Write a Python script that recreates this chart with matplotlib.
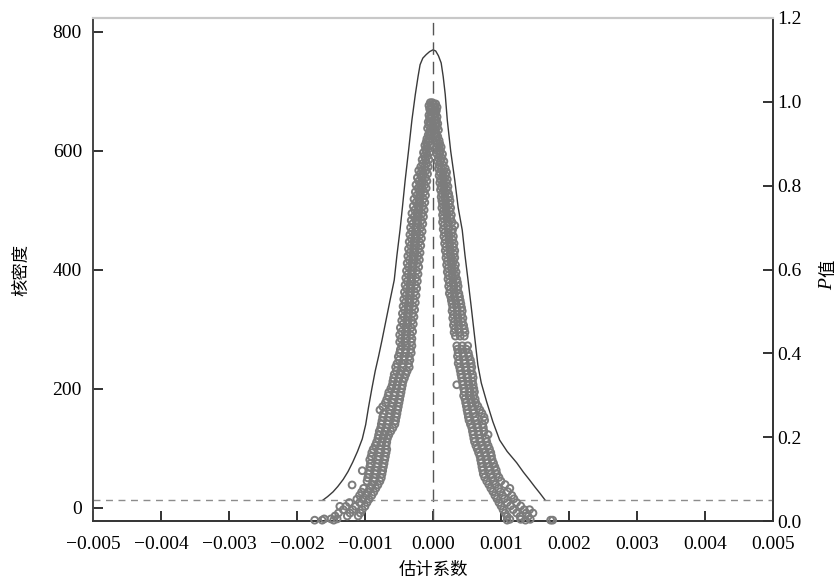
import matplotlib
matplotlib.use("Agg")
import matplotlib.pyplot as plt
import numpy as np

plt.rcParams['font.family'] = ['Liberation Serif', 'Noto Sans CJK SC', 'DejaVu Sans']

# kernel density of the placebo coefficients (coef in units of 1e-4)
kde_coef_e4 = [-16.2, -15.5, -14.7, -14.0, -13.2, -12.5, -11.8, -11.1, -10.4, -9.9, -9.5, -9.0,
               -8.5, -8.0, -7.5, -6.9, -6.3, -5.7, -5.3, -4.85, -4.5, -4.1, -3.6, -3.1, -2.6,
               -2.2, -1.9, -1.5, -1.0, -0.5, 0.0, 0.4, 0.8, 1.2, 1.5, 1.8, 2.1, 2.6, 3.2, 3.7,
               4.3, 4.7, 5.15, 5.6, 6.0, 6.3, 6.6, 7.1, 7.9, 8.8, 9.8, 10.9, 12.3, 13.3, 14.2,
               15.0, 15.7, 16.5]
kde_density = [13, 19, 27, 36, 48, 61, 77, 95, 116, 140, 168, 200,
               230, 255, 282, 316, 350, 383, 425, 467, 505, 550, 600, 652, 695,
               725, 745, 756, 762, 767, 770, 768, 760, 748, 725, 695, 652, 600, 551, 505,
               467, 425, 383, 340, 300, 270, 240, 210, 178, 145, 114, 95, 76, 60, 47,
               35, 25, 13]

# p values of negative placebo estimates, one row per p level
neg_p = [0.998, 0.991, 0.983, 0.976, 0.968, 0.961, 0.952, 0.944, 0.937, 0.929, 0.921, 0.912,
         0.904, 0.896, 0.887, 0.879, 0.871, 0.862, 0.853, 0.845, 0.836, 0.828, 0.819, 0.811,
         0.802, 0.794, 0.785, 0.777, 0.768, 0.760, 0.751, 0.742, 0.734, 0.726, 0.717, 0.709,
         0.700, 0.691, 0.683, 0.674, 0.666, 0.657, 0.649, 0.640, 0.632, 0.623, 0.615, 0.606,
         0.597, 0.589, 0.580, 0.572, 0.563, 0.555, 0.546, 0.538, 0.529, 0.521, 0.512, 0.504,
         0.495, 0.487, 0.478, 0.470, 0.461, 0.452, 0.444, 0.435, 0.427, 0.418, 0.409, 0.401,
         0.392, 0.384, 0.375, 0.367, 0.358, 0.350, 0.341, 0.333, 0.324, 0.316, 0.307, 0.299,
         0.290, 0.282, 0.273, 0.265, 0.256, 0.248, 0.239, 0.231, 0.222, 0.214, 0.205, 0.197,
         0.188, 0.180, 0.171, 0.163, 0.154, 0.146, 0.137, 0.129, 0.120, 0.112, 0.103, 0.095,
         0.086, 0.078, 0.069, 0.061, 0.052, 0.044, 0.035, 0.027, 0.019, 0.012, 0.005, 0.002]
neg_coef_e4 = [[-0.1, -0.4], [-0.3, -0.6], [-0.2, -0.5], [-0.4, -0.1], [-0.6, -0.3], [-0.2, -0.5],
               [-0.4, -0.7], [-0.1, -0.6], [-0.3, -0.8], [-0.5, -0.2], [-0.7, -0.4], [-0.9, -0.5],
               [-0.6, -1.0], [-0.4, -0.9, -1.2], [-0.7, -1.1], [-0.5, -1.0, -1.4], [-0.8, -1.3],
               [-0.6, -1.1, -1.6], [-0.9, -1.5], [-0.7, -1.2, -1.8], [-1.0, -1.6, -2.1],
               [-0.8, -1.4, -1.9], [-1.1, -1.7, -2.3], [-0.9, -1.5, -2.1], [-1.2, -1.9, -2.5],
               [-1.0, -1.6, -2.2], [-1.3, -2.0, -2.6], [-1.1, -1.8, -2.4], [-1.4, -2.1, -2.8],
               [-1.2, -1.9, -2.5], [-1.5, -2.2, -2.9], [-1.3, -2.0, -2.7], [-1.6, -2.4, -3.1],
               [-1.4, -2.1, -2.8], [-1.7, -2.5, -3.2], [-1.5, -2.2, -3.0], [-1.8, -2.6, -3.3],
               [-1.6, -2.3, -3.1], [-1.9, -2.7, -3.4], [-1.7, -2.4, -3.2], [-2.0, -2.8, -3.5],
               [-1.8, -2.5, -3.3], [-2.1, -2.9, -3.6], [-1.9, -2.6, -3.4], [-2.2, -3.0, -3.7],
               [-2.0, -2.7, -3.5], [-2.3, -3.1, -3.8], [-2.1, -2.9, -3.6], [-2.4, -3.2, -3.9],
               [-2.2, -3.0, -3.7], [-2.5, -3.3, -4.0], [-2.3, -3.1, -3.8], [-2.6, -3.4, -4.1],
               [-2.4, -3.2, -3.9], [-2.7, -3.5, -4.2], [-2.5, -3.3, -4.0], [-2.8, -3.6, -4.3],
               [-2.6, -3.4, -4.1], [-2.9, -3.7, -4.4], [-2.7, -3.5, -4.2], [-3.0, -3.8, -4.5],
               [-2.8, -3.6, -4.3], [-3.1, -3.9, -4.6], [-2.9, -3.7, -4.4], [-3.2, -4.0, -4.8],
               [-3.0, -3.8, -4.6], [-3.3, -4.1, -4.9], [-3.1, -3.9, -4.7], [-3.2, -4.2, -4.9],
               [-3.1, -3.9, -4.6], [-3.3, -4.1, -4.8], [-3.2, -4.0, -4.9], [-3.5, -4.3, -5.1],
               [-3.4, -4.2, -5.0], [-3.6, -4.5, -5.3], [-3.5, -4.4, -5.5], [-3.8, -4.7, -5.4],
               [-4.0, -4.9, -5.7], [-4.2, -5.0, -5.8], [-4.4, -5.2, -5.9], [-4.5, -5.3, -6.0],
               [-4.6, -5.4, -6.2], [-4.7, -5.6, -6.5], [-4.8, -5.7, -6.6], [-4.9, -5.8, -6.8],
               [-5.0, -6.0, -7.0], [-5.1, -6.1, -7.4], [-5.2, -6.3, -7.8], [-5.3, -6.4, -7.3],
               [-5.4, -6.5, -7.4], [-5.5, -6.6, -7.5], [-5.6, -6.7, -7.6], [-5.9, -6.8, -7.7],
               [-6.2, -7.0, -7.9], [-6.5, -7.2, -8.0], [-6.7, -7.4, -8.1], [-6.8, -7.5, -8.3],
               [-6.9, -7.7, -8.5], [-6.8, -7.8, -8.8], [-6.9, -7.9, -9.0], [-7.0, -8.0, -9.1],
               [-7.1, -8.1, -9.3], [-7.2, -8.2, -9.2], [-7.3, -8.3, -9.3], [-7.4, -8.4, -9.4, -10.4],
               [-7.5, -8.5, -9.5], [-7.6, -8.6, -9.6], [-7.8, -8.7, -9.7], [-8.1, -9.0, -11.9],
               [-8.4, -9.3, -10.2], [-8.7, -9.6, -10.5], [-9.0, -9.9, -10.8], [-9.4, -10.3, -11.2],
               [-9.7, -10.8, -12.3], [-10.0, -11.4, -12.8, -13.7], [-10.4, -11.8, -13.2],
               [-10.7, -12.2, -13.9], [-11.0, -12.6, -14.4], [-14.1, -15.0, -16.0],
               [-14.6, -16.3, -17.4]]

# p values of positive placebo estimates, one row per p level
pos_p = [0.995, 0.987, 0.979, 0.972, 0.964, 0.956, 0.948, 0.940, 0.933, 0.925, 0.917, 0.908,
         0.900, 0.892, 0.883, 0.875, 0.866, 0.858, 0.849, 0.841, 0.832, 0.824, 0.815, 0.807,
         0.798, 0.790, 0.781, 0.773, 0.764, 0.756, 0.747, 0.739, 0.730, 0.722, 0.713, 0.705,
         0.696, 0.688, 0.679, 0.671, 0.662, 0.654, 0.645, 0.637, 0.628, 0.620, 0.611, 0.603,
         0.594, 0.586, 0.577, 0.569, 0.560, 0.552, 0.543, 0.535, 0.526, 0.518, 0.509, 0.501,
         0.492, 0.484, 0.475, 0.467, 0.458, 0.450, 0.441, 0.418, 0.410, 0.401, 0.393, 0.384,
         0.376, 0.367, 0.359, 0.350, 0.342, 0.333, 0.325, 0.316, 0.308, 0.299, 0.291, 0.282,
         0.274, 0.265, 0.257, 0.248, 0.240, 0.231, 0.223, 0.214, 0.206, 0.197, 0.189, 0.180,
         0.172, 0.163, 0.155, 0.146, 0.138, 0.129, 0.121, 0.112, 0.104, 0.095, 0.087, 0.078,
         0.070, 0.061, 0.053, 0.044, 0.036, 0.027, 0.019, 0.011, 0.004, 0.002]
pos_coef_e4 = [[0.1, 0.4], [0.3, 0.6], [0.2, 0.5], [0.4, 0.1], [0.6, 0.3], [0.2, 0.5],
               [0.4, 0.7], [0.1, 0.6], [0.3, 0.8], [0.5, 0.2], [0.7, 0.4], [0.9, 0.5],
               [0.6, 1.0], [0.5, 0.9, 1.2], [0.7, 1.1], [0.6, 1.0, 1.4], [0.8, 1.3],
               [0.7, 1.1, 1.6], [0.9, 1.5], [0.8, 1.2, 1.8], [1.0, 1.5, 2.0], [0.9, 1.4, 1.9],
               [1.1, 1.6, 2.1], [1.0, 1.5, 2.0], [1.2, 1.7, 2.2], [1.1, 1.6, 2.1], [1.3, 1.8, 2.3],
               [1.2, 1.7, 2.4], [1.3, 1.9, 2.5], [1.4, 1.8, 2.4], [1.3, 2.0, 2.6], [1.5, 1.9, 2.5],
               [1.4, 2.1, 2.7], [1.5, 2.0, 2.6], [1.4, 2.2, 2.8], [1.6, 2.1, 3.2], [1.5, 2.3, 2.9],
               [1.7, 2.2, 2.8], [1.6, 2.4, 3.0], [1.8, 2.3, 2.9], [1.7, 2.5, 3.1], [1.9, 2.4, 3.0],
               [1.8, 2.6, 3.2], [2.0, 2.5, 3.1], [1.9, 2.7, 3.2], [2.1, 2.6, 3.0], [2.0, 2.8, 3.3],
               [2.2, 2.7, 3.2], [2.1, 2.9, 3.4], [2.3, 2.8, 3.3], [2.2, 3.0, 3.5], [2.4, 2.9, 3.6],
               [2.3, 3.1, 3.7], [2.5, 3.0, 3.6], [2.4, 3.2, 3.8], [2.6, 3.1, 3.9], [2.7, 3.3, 4.0],
               [2.8, 3.4, 4.1], [2.9, 3.5, 4.2], [2.8, 3.6, 4.3], [3.0, 3.5, 4.2], [2.9, 3.7, 4.4],
               [3.1, 3.6, 4.3], [3.0, 3.8, 4.5], [3.2, 3.7, 4.6], [3.1, 3.9, 4.7], [3.3, 4.0, 4.6],
               [3.5, 4.3, 5.1], [3.6, 4.2, 4.9], [3.7, 4.4, 5.2], [3.6, 4.5, 5.3], [3.8, 4.6, 5.5],
               [3.7, 4.7, 5.6], [3.9, 4.8, 5.7], [4.0, 4.9, 5.6], [4.1, 5.0, 5.8], [4.2, 5.1, 5.9],
               [4.3, 5.2, 5.8], [3.5, 4.4, 5.3, 5.9], [4.5, 5.4, 6.0], [4.6, 5.5, 6.1],
               [4.5, 5.3, 6.0], [4.7, 5.6, 6.2], [4.8, 5.7, 6.3], [4.9, 5.8, 6.6], [5.0, 5.9, 6.9],
               [5.1, 6.0, 7.2], [5.2, 6.2, 7.5], [5.3, 6.3, 7.6], [5.5, 6.5, 7.3], [5.7, 6.6, 7.4],
               [5.8, 6.7, 7.5], [5.9, 6.8, 8.1], [6.0, 6.9, 7.8], [6.1, 7.0, 7.9], [6.3, 7.2, 8.1],
               [6.5, 7.4, 8.3], [6.7, 7.6, 8.5], [6.9, 7.8, 8.6], [7.0, 7.9, 8.7], [7.1, 8.0, 8.9],
               [7.2, 8.2, 9.1], [7.3, 8.3, 9.3], [7.4, 8.5, 9.4], [7.6, 8.7, 9.7], [7.9, 8.9, 10.0],
               [8.2, 9.2, 10.6], [8.5, 9.6, 11.3], [8.8, 9.9, 11.0], [9.1, 10.2, 11.6],
               [9.4, 10.5, 11.9], [9.7, 10.9, 12.3], [10.0, 11.4, 12.9], [10.3, 11.8, 13.4, 14.2],
               [10.6, 12.3, 13.7, 14.7], [10.9, 12.8, 14.0], [11.3, 12.9, 14.3],
               [10.9, 13.6, 17.3, 17.6]]

x_ticks = [-0.005, -0.004, -0.003, -0.002, -0.001, 0.0, 0.001, 0.002, 0.003, 0.004, 0.005]
left_ticks = [0, 200, 400, 600, 800]
right_ticks = [0.0, 0.2, 0.4, 0.6, 0.8, 1.0, 1.2]
p_cut = 0.05


def rows_to_points(p_rows, coef_rows):
    xs, ys = [], []
    for p, row in zip(p_rows, coef_rows):
        for c in row:
            xs.append(c * 1e-4)
            ys.append(p)
    return xs, ys


W, H = 839, 583
fig = plt.figure(figsize=(W / 100, H / 100), dpi=100)
ax = fig.add_axes([93 / W, 1 - 521 / H, 680 / W, 503 / H])
ax2 = ax.twinx()

kx = np.array(kde_coef_e4) * 1e-4
ax.plot(kx, kde_density, color='#3a3a3a', lw=1.0)
ax.axvline(0, color='#555555', lw=1.0, dashes=(9, 5))
ax.set_xlim(-0.005, 0.005)
ax.set_ylim(-22, 823.5)

grey = '#7c7c7c'
for p_rows, coef_rows in [(neg_p, neg_coef_e4), (pos_p, pos_coef_e4)]:
    xs, ys = rows_to_points(p_rows, coef_rows)
    ax2.scatter(xs, ys, s=24, facecolors='none', edgecolors=grey,
                linewidths=1.4, clip_on=False, zorder=3)
ax2.axhline(p_cut, color='#8c8c8c', lw=1.0, dashes=(5, 4))
ax2.set_ylim(0, 1.2)

ax.set_xticks(x_ticks)
ax.set_xticklabels([f"{v:.3f}".replace('-', '\u2212') for v in x_ticks])
ax.set_yticks(left_ticks)
ax.set_yticklabels([str(v) for v in left_ticks])
ax2.set_yticks(right_ticks)
ax2.set_yticklabels([f"{v:.1f}" for v in right_ticks])

ax.tick_params(axis='x', direction='in', length=7, width=1.3, pad=11, labelsize=14, color='#222222')
ax.tick_params(axis='y', direction='in', length=7, width=1.3, pad=8, labelsize=14, color='#222222')
ax2.tick_params(axis='y', direction='in', length=7, width=1.3, pad=3, labelsize=14, color='#222222')

for a in (ax, ax2):
    a.spines['top'].set_color('#c8c8c8')
    a.spines['top'].set_linewidth(1.5)
    a.spines['left'].set_color('#444444')
    a.spines['bottom'].set_color('#333333')
    a.spines['right'].set_color('#333333')
    a.spines['bottom'].set_linewidth(1.2)
    a.spines['right'].set_linewidth(1.2)
    a.spines['left'].set_linewidth(1.2)

fig.text(22 / W, 1 - 270 / H, "核密度", rotation=90, ha='center', va='center', fontsize=12.5)
fig.text(433 / W, 1 - 571 / H, "估计系数", ha='center', va='center', fontsize=12.5)
# right label: italic P followed by 值, reading bottom to top
fig.text(828 / W, 1 - 284 / H, "P", rotation=90, ha='center', va='center', fontsize=14,
         style='italic', family='Liberation Serif')
fig.text(828 / W, 1 - 268 / H, "值", rotation=90, ha='center', va='center', fontsize=12.5,
         family='Noto Sans CJK SC')

fig.savefig("out.png", dpi=100)
